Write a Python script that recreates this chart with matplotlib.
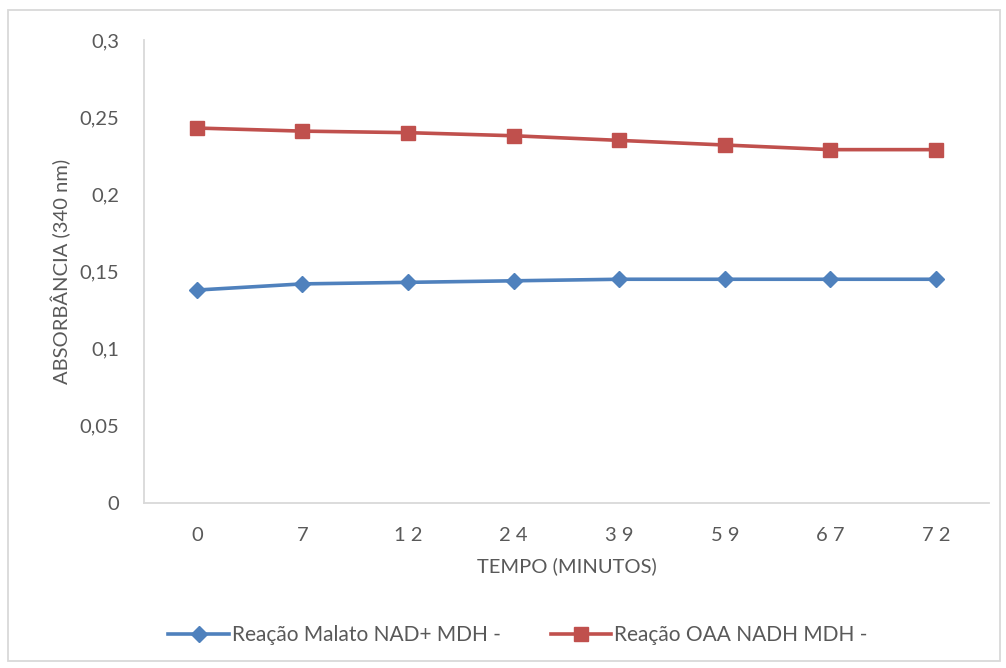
import matplotlib.pyplot as plt
from matplotlib.patches import Rectangle
from matplotlib.ticker import FuncFormatter

plt.rcParams['font.family'] = ['Lato', 'DejaVu Sans']

tempo = ['0', '7', '12', '24', '39', '59', '67', '72']
malato = [0.138, 0.142, 0.143, 0.144, 0.145, 0.145, 0.145, 0.145]
oaa = [0.243, 0.241, 0.240, 0.238, 0.235, 0.232, 0.229, 0.229]
nomes = ['Reação Malato NAD+ MDH -', 'Reação OAA NADH MDH -']

azul = '#4F81BD'
vermelho = '#C0504D'
cinza = '#595959'
fs = 14.5

fig = plt.figure(figsize=(10.06, 6.68), dpi=100)
ax = fig.add_axes([0.1431, 0.247, 0.8399, 0.693])

x = range(len(tempo))
ax.plot(x, malato, color=azul, lw=2.6, marker='D', ms=8.5, label=nomes[0])
ax.plot(x, oaa, color=vermelho, lw=2.6, marker='s', ms=10, label=nomes[1])

ax.set_xlim(-0.5, len(tempo) - 0.5)
ax.set_ylim(0, 0.3)
ax.set_yticks([0, 0.05, 0.1, 0.15, 0.2, 0.25, 0.3])
ax.yaxis.set_major_formatter(FuncFormatter(lambda v, p: ('%g' % round(v, 2)).replace('.', ',')))
ax.set_xticks(list(x))
# rótulos do eixo x com espaçamento entre os dígitos
ax.set_xticklabels([' '.join(t) for t in tempo])

for s in ['top', 'right']:
    ax.spines[s].set_visible(False)
for s in ['left', 'bottom']:
    ax.spines[s].set_color('#D9D9D9')
    ax.spines[s].set_linewidth(1.3)
ax.tick_params(length=0, labelsize=fs, colors=cinza)
ax.tick_params(axis='y', pad=18)
ax.tick_params(axis='x', pad=17)

ax.set_xlabel('TEMPO (MINUTOS)', fontsize=fs, color=cinza, labelpad=10)
ax.set_ylabel('ABSORBÂNCIA (340 nm)', fontsize=fs, color=cinza, labelpad=6)

fig.legend(loc='center', bbox_to_anchor=(0.515, 0.049), ncol=2, frameon=False,
           fontsize=15, labelcolor=cinza, handlelength=2.9, handletextpad=0.15,
           columnspacing=2.4)

# moldura externa
fig.patches.append(Rectangle((0.008, 0.01), 0.986, 0.975, transform=fig.transFigure,
                             fill=False, edgecolor='#D9D9D9', lw=1.3))

fig.savefig('out.png', dpi=100)
